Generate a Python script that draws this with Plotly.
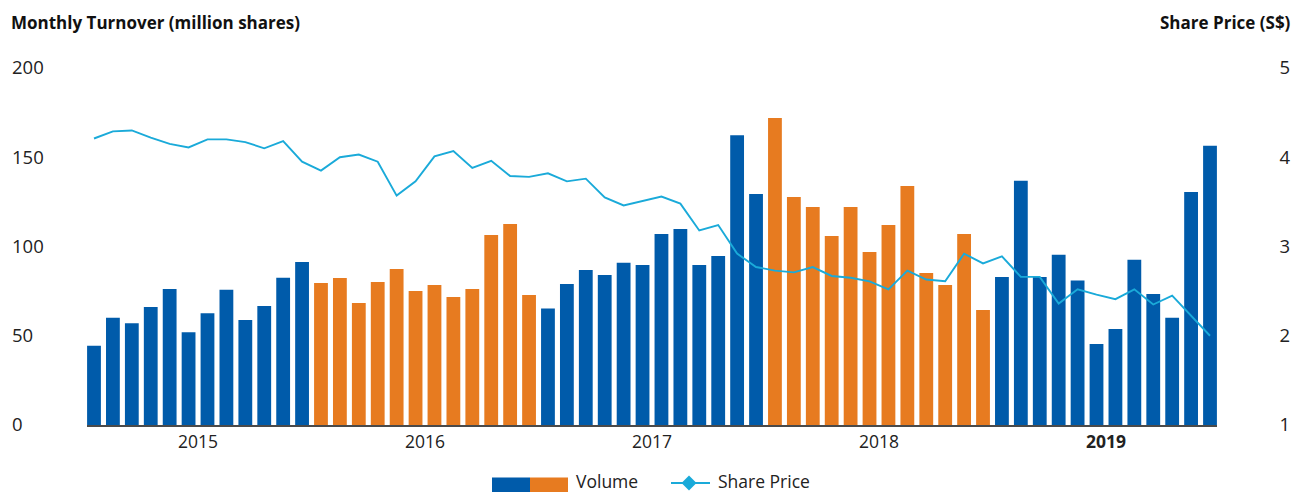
import plotly.graph_objects as go

# ---------------- data ----------------
years = ["2015", "2016", "2017", "2018", "2019"]
year_labels = ["2015", "2016", "2017", "2018", "<b>2019</b>"]
months_per_year = 12

volume = [44.4, 60.1, 57.0, 66.1, 76.2, 51.9, 62.6, 75.8, 58.8, 66.7, 82.5, 91.3,
          79.6, 82.4, 68.3, 80.1, 87.4, 75.1, 78.4, 71.7, 76.2, 106.4, 112.6, 72.8,
          65.2, 79.0, 86.8, 84.0, 90.9, 89.6, 107.0, 109.8, 89.6, 94.7, 162.3, 129.4,
          172.0, 127.7, 122.1, 105.9, 122.1, 96.9, 112.0, 133.9, 85.2, 78.4, 107.0, 64.4,
          82.9, 136.9, 82.9, 95.4, 81.0, 45.4, 53.8, 92.6, 73.4, 60.1, 130.5, 156.5]

price = [4.21, 4.29, 4.30, 4.22, 4.15, 4.11, 4.20, 4.20, 4.17, 4.10, 4.18, 3.95,
         3.85, 4.00, 4.03, 3.95, 3.57, 3.73, 4.01, 4.07, 3.88, 3.96, 3.79, 3.78,
         3.82, 3.73, 3.76, 3.55, 3.46, 3.51, 3.56, 3.48, 3.18, 3.24, 2.92, 2.77,
         2.73, 2.71, 2.77, 2.67, 2.65, 2.61, 2.52, 2.73, 2.63, 2.61, 2.92, 2.81,
         2.89, 2.66, 2.66, 2.36, 2.52, 2.46, 2.41, 2.52, 2.35, 2.45, 2.23, 2.00]

left_ticks = [0, 50, 100, 150, 200]
right_ticks = [1, 2, 3, 4, 5]

# ---------------- styles ----------------
BLUE = "#005BAA"
ORANGE = "#E77B20"
LINE = "#1AAAD9"
FONT = "Open Sans"

year_colors = [BLUE, ORANGE, BLUE, ORANGE, BLUE]
month_idx = list(range(len(volume)))
bar_colors = [year_colors[i // months_per_year] for i in month_idx]
year_centers = [k * months_per_year + (months_per_year - 1) / 2 for k in range(len(years))]

fig = go.Figure()
fig.add_trace(go.Bar(x=month_idx, y=volume, marker=dict(color=bar_colors, line=dict(width=0)),
                     name="Volume", showlegend=False, yaxis="y"))
fig.add_trace(go.Scatter(x=month_idx, y=price, mode="lines", line=dict(color=LINE, width=1.9),
                         name="Share Price", showlegend=False, yaxis="y2"))

ML, MR, MT, MB = 8, 5, 68, 68
W, H = 1298, 493
PW = W - ML - MR
PH = H - MT - MB


def px(x):
    return (x - ML) / PW


def py(y):
    return (H - MB - y) / PH


fig.update_layout(
    width=W, height=H,
    margin=dict(l=ML, r=MR, t=MT, b=MB),
    paper_bgcolor="white", plot_bgcolor="white",
    bargap=0.27,
    showlegend=False,
    font=dict(family=FONT, color="#222222"),
    xaxis=dict(domain=[px(87), px(1217)], range=[-0.37, len(volume) - 1 + 0.37],
               tickmode="array", tickvals=year_centers, ticktext=year_labels,
               showline=True, linecolor="#4a4a4a", linewidth=2, ticks="",
               showgrid=False, zeroline=False, tickfont=dict(size=17.5, color="#222222")),
    yaxis=dict(range=[0, 200], tickmode="array", tickvals=left_ticks,
               anchor="free", position=0, ticklabelposition="inside",
               ticklabeloverflow="allow", showgrid=False, zeroline=False, showline=False,
               ticks="", tickfont=dict(size=18.5, color="#222222")),
    yaxis2=dict(range=[1, 5], tickmode="array", tickvals=right_ticks, overlaying="y",
                side="right", anchor="free", position=1, ticklabelposition="inside",
                ticklabeloverflow="allow", showgrid=False, zeroline=False, showline=False,
                ticks="", tickfont=dict(size=18.5, color="#222222")),
)

annotations = [
    dict(text="<b>Monthly Turnover (million shares)</b>", x=px(9), y=py(22), xref="paper",
         yref="paper", xanchor="left", yanchor="middle", showarrow=False,
         font=dict(size=17, color="#111111")),
    dict(text="<b>Share Price (S$)</b>", x=1, y=py(22), xref="paper", yref="paper",
         xanchor="right", yanchor="middle", showarrow=False, font=dict(size=17, color="#111111")),
    dict(text="Volume", x=px(574), y=py(481), xref="paper", yref="paper", xanchor="left",
         yanchor="middle", showarrow=False, font=dict(size=17.5, color="#222222")),
    dict(text="Share Price", x=px(716), y=py(481), xref="paper", yref="paper", xanchor="left",
         yanchor="middle", showarrow=False, font=dict(size=17.5, color="#222222")),
]
fig.update_layout(annotations=annotations)

shapes = [
    dict(type="rect", xref="paper", yref="paper", x0=px(492), x1=px(530), y0=py(477.5),
         y1=py(492), fillcolor=BLUE, line=dict(width=0)),
    dict(type="rect", xref="paper", yref="paper", x0=px(530), x1=px(568), y0=py(477.5),
         y1=py(492), fillcolor=ORANGE, line=dict(width=0)),
    dict(type="line", xref="paper", yref="paper", x0=px(671), x1=px(710), y0=py(483),
         y1=py(483), line=dict(color=LINE, width=2)),
    dict(type="path", xref="paper", yref="paper", xsizemode="pixel", ysizemode="pixel",
         xanchor=px(689), yanchor=py(483), path="M -7.5 0 L 0 7.5 L 7.5 0 L 0 -7.5 Z",
         fillcolor=LINE, line=dict(width=0)),
]
fig.update_layout(shapes=shapes)

fig.write_html("out.html")
